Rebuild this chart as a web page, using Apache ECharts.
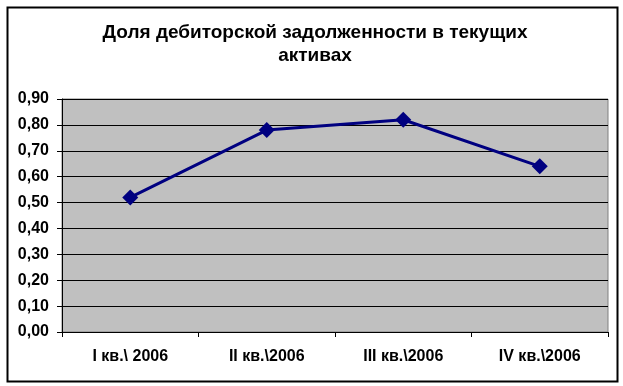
<!DOCTYPE html>
<html><head><meta charset="utf-8">
<script src="https://cdn.jsdelivr.net/npm/echarts@6/dist/echarts.min.js"></script>
<style>html,body{margin:0;padding:0;background:#fff}#c{width:623px;height:386px}</style>
</head><body><div id="c"></div>
<script>
const titleText = "Доля дебиторской задолженности в текущих\nактивах";
const categories = ["I кв.\\ 2006", "II кв.\\2006", "III кв.\\2006", "IV кв.\\2006"];
const shareValues = [0.52, 0.78, 0.82, 0.64];
const yMin = 0, yMax = 0.9, yStep = 0.1;

const FONT = '"Liberation Sans", Arial, sans-serif';
const chart = echarts.init(document.getElementById('c'), null, {renderer: 'canvas'});
chart.setOption({
  animation: false,
  backgroundColor: '#fff',
  graphic: [{
    type: 'rect', left: 5, top: 5, z: 100, silent: true,
    shape: {width: 610, height: 374},
    style: {fill: 'none', stroke: '#000', lineWidth: 2}
  }],
  title: {
    text: titleText, left: 310, top: 16, textAlign: 'center',
    textStyle: {fontFamily: FONT, fontWeight: 'bold', fontSize: 19, lineHeight: 23, color: '#000'}
  },
  grid: {left: 62, right: 15, top: 99, bottom: 54, show: true, backgroundColor: '#C0C0C0', borderColor: '#808080', borderWidth: 1},
  xAxis: {
    type: 'category', data: categories, boundaryGap: true,
    axisLine: {lineStyle: {color: '#000', width: 1}},
    axisTick: {show: true, length: 5, lineStyle: {color: '#000'}},
    axisLabel: {margin: 17, color: '#000', fontFamily: FONT, fontWeight: 'bold', fontSize: 16}
  },
  yAxis: {
    type: 'value', min: yMin, max: yMax, interval: yStep,
    axisLine: {show: true, lineStyle: {color: '#000', width: 1}},
    axisTick: {show: true, length: 5, lineStyle: {color: '#000'}},
    splitLine: {show: true, lineStyle: {color: '#000', width: 1}},
    axisLabel: {margin: 13, color: '#000', fontFamily: FONT, fontWeight: 'bold', fontSize: 16,
      formatter: v => v.toFixed(2).replace('.', ',')}
  },
  series: [{
    type: 'line', data: shareValues,
    symbol: 'diamond', symbolSize: 16,
    lineStyle: {color: '#000080', width: 3},
    itemStyle: {color: '#000080'}
  }]
});
</script></body></html>
